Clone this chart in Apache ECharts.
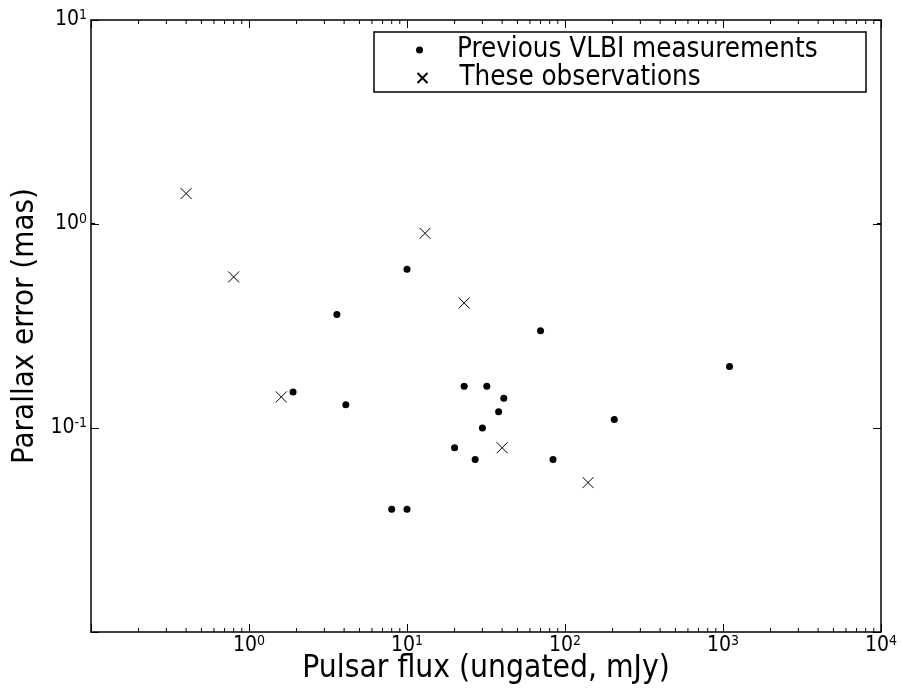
<!DOCTYPE html>
<html><head><meta charset="utf-8">
<script src="https://cdn.jsdelivr.net/npm/echarts@6/dist/echarts.min.js"></script>
<style>html,body{margin:0;padding:0;background:#fff}#c{width:903px;height:691px}</style>
</head><body><div id="c"></div>
<script>
const FONT = "'DejaVu Sans Condensed', 'DejaVu Sans', sans-serif";

// Previous VLBI measurements (dots)
const prevFlux = [10, 3.6, 70, 1100, 1.9, 4.1, 23, 32, 41, 38, 205, 30, 20, 27, 84, 8.0, 10];
const prevErr  = [0.60, 0.36, 0.30, 0.20, 0.15, 0.13, 0.16, 0.16, 0.14, 0.12, 0.11, 0.10, 0.08, 0.07, 0.07, 0.04, 0.04];
// These observations (crosses)
const obsFlux = [0.40, 0.80, 13, 23, 1.6, 40, 140];
const obsErr  = [1.41, 0.55, 0.90, 0.41, 0.142, 0.08, 0.054];

const seriesNames = ['Previous VLBI measurements', 'These observations'];
const xTitle = 'Pulsar flux (ungated, mJy)';
const yTitle = 'Parallax error (mas)';
const xRange = [0.1, 10000];
const yRange = [0.01, 10];
const xHiddenExp = [-1];
const yHiddenExp = [-2];

// minor tick positions (2..9 x 10^k) for the log axes
function minorTicks(lo, hi) {
  const out = [];
  for (let k = Math.round(Math.log10(lo)); k < Math.round(Math.log10(hi)); k++) {
    for (let d = 2; d <= 9; d++) out.push(d * Math.pow(10, k));
  }
  return out;
}
const xMinor = minorTicks(xRange[0], xRange[1]);
const yMinor = minorTicks(yRange[0], yRange[1]);

function expLabel(hidden) {
  return function (v) {
    const e = Math.round(Math.log10(v));
    if (hidden.indexOf(e) >= 0) return '';
    return '{b|10}{s|' + e + '}';
  };
}
const labelRich = {
  b: { fontFamily: FONT, fontSize: 21, color: '#000', lineHeight: 24 },
  s: { fontFamily: FONT, fontSize: 14, color: '#000', verticalAlign: 'top', lineHeight: 24, padding: [0, 0, 6, 0] }
};

const axisLineStyle = { show: true, lineStyle: { color: '#000', width: 1.5 } };
const majorTick = { show: true, inside: true, length: 8, lineStyle: { color: '#000', width: 1 } };

function minorRender(isX) {
  return function (params, api) {
    const cs = params.coordSys;
    const v = api.value(0);
    const L = 4;
    const st = { stroke: '#000', lineWidth: 1 };
    if (isX) {
      const p = api.coord([v, 1])[0];
      return { type: 'group', children: [
        { type: 'line', shape: { x1: p, y1: cs.y + cs.height, x2: p, y2: cs.y + cs.height - L }, style: st },
        { type: 'line', shape: { x1: p, y1: cs.y, x2: p, y2: cs.y + L }, style: st }
      ]};
    } else {
      const p = api.coord([1, v])[1];
      return { type: 'group', children: [
        { type: 'line', shape: { x1: cs.x, y1: p, x2: cs.x + L, y2: p }, style: st },
        { type: 'line', shape: { x1: cs.x + cs.width, y1: p, x2: cs.x + cs.width - L, y2: p }, style: st }
      ]};
    }
  };
}

const chart = echarts.init(document.getElementById('c'), null, { renderer: 'canvas' });
chart.setOption({
  backgroundColor: '#fff',
  animation: false,
  textStyle: { fontFamily: FONT },
  grid: { left: 91, right: 22, top: 20, bottom: 59, containLabel: false, outerBoundsMode: 'none' },
  xAxis: [{
    type: 'log', logBase: 10, min: xRange[0], max: xRange[1], splitNumber: 5,
    name: xTitle, nameLocation: 'middle', nameGap: 21, nameMoveOverlap: false,
    nameTextStyle: { fontFamily: FONT, fontSize: 31.5, color: '#000' },
    axisLine: axisLineStyle, axisTick: majorTick, splitLine: { show: false },
    axisLabel: { formatter: expLabel(xHiddenExp), rich: labelRich, margin: 2, showMinLabel: true, showMaxLabel: true }
  }, {
    type: 'log', logBase: 10, min: xRange[0], max: xRange[1], splitNumber: 5, position: 'top',
    axisLine: axisLineStyle, axisTick: majorTick, splitLine: { show: false }, axisLabel: { show: false }
  }],
  yAxis: [{
    type: 'log', logBase: 10, min: yRange[0], max: yRange[1], splitNumber: 3,
    name: yTitle, nameLocation: 'middle', nameGap: 51, nameMoveOverlap: false,
    nameTextStyle: { fontFamily: FONT, fontSize: 31, color: '#000' },
    axisLine: axisLineStyle, axisTick: majorTick, splitLine: { show: false },
    axisLabel: { formatter: expLabel(yHiddenExp), rich: labelRich, margin: 4, showMinLabel: true, showMaxLabel: true }
  }, {
    type: 'log', logBase: 10, min: yRange[0], max: yRange[1], splitNumber: 3, position: 'right',
    axisLine: axisLineStyle, axisTick: majorTick, splitLine: { show: false }, axisLabel: { show: false }
  }],
  legend: [{
    data: [seriesNames[0]], orient: 'vertical', left: 416, top: 36, padding: 0,
    itemWidth: 7, itemHeight: 7, selectedMode: false,
    textStyle: { fontFamily: FONT, fontSize: 27.5, color: '#000', padding: [0, 0, 0, 29] }
  }, {
    data: [seriesNames[1]], orient: 'vertical', left: 415, top: 64, padding: 0,
    itemWidth: 10, itemHeight: 10, selectedMode: false,
    textStyle: { fontFamily: FONT, fontSize: 27.5, color: '#000', padding: [0, 0, 0, 27] }
  }],
  graphic: [{
    type: 'rect', z: 3, silent: true,
    shape: { x: 374, y: 32, width: 492, height: 60 },
    style: { fill: '#fff', stroke: '#000', lineWidth: 1.5 }
  }],
  series: [{
    name: seriesNames[0], type: 'scatter', symbol: 'circle', symbolSize: 7,
    itemStyle: { color: '#000', opacity: 1 },
    data: prevFlux.map((x, i) => [x, prevErr[i]]), z: 5
  }, {
    name: seriesNames[1], type: 'scatter', symbol: 'path://M0,0L10,10M10,0L0,10', symbolSize: 11,
    itemStyle: { color: 'none', borderColor: '#000', borderWidth: 1, opacity: 1 },
    data: obsFlux.map((x, i) => [x, obsErr[i]]), z: 5
  }, {
    type: 'custom', silent: true, renderItem: minorRender(true),
    data: xMinor.map(v => [v, 1]), encode: { x: 0, y: 1 }, z: 4
  }, {
    type: 'custom', silent: true, renderItem: minorRender(false),
    data: yMinor.map(v => [1, v]), encode: { x: 0, y: 1 }, z: 4
  }]
});
</script></body></html>
